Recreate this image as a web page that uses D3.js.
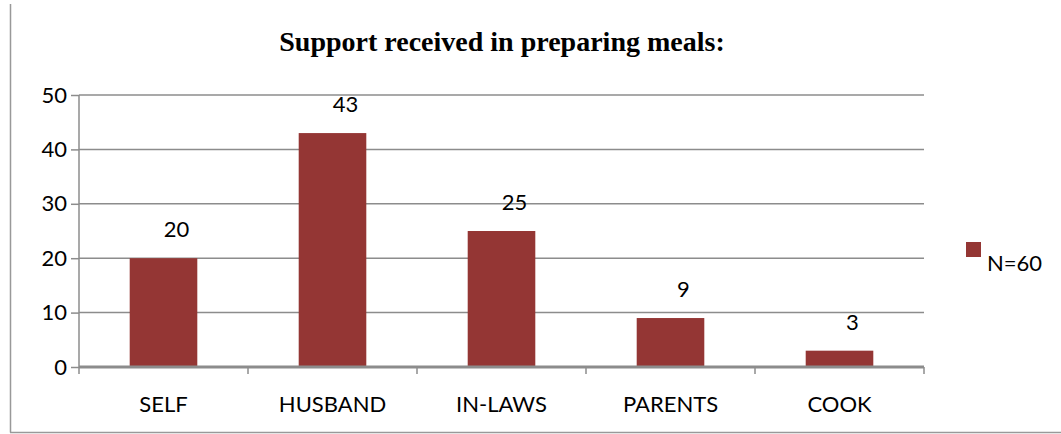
<!DOCTYPE html>
<html>
<head>
<meta charset="utf-8">
<script src="https://cdn.jsdelivr.net/npm/d3@7"></script>
<style>
  body { margin: 0; background: #fff; }
  text { font-family: Lato, "Open Sans", sans-serif; }
</style>
</head>
<body>
<script>
// data
var categories = ["SELF", "HUSBAND", "IN-LAWS", "PARENTS", "COOK"];
var counts     = [20, 43, 25, 9, 3];
var yTicks     = [0, 10, 20, 30, 40, 50];
var seriesName = "N=60";

drawChart()

function drawChart() {
  var W = 1061, H = 434;
  var mLeft = 79, mRight = 924, mTop = 95, mBottom = 367;
  var barColor = "#943634", gridColor = "#8c8c8c";
  var fs = "22px";

  var svg = d3.select("body").append("svg")
    .attr("width", W).attr("height", H);

  // outer frame (only left and bottom edges show)
  svg.append("line").attr("x1", 10.5).attr("x2", 10.5).attr("y1", 4).attr("y2", 432.5)
    .attr("stroke", "#999").attr("stroke-width", 1.5);
  svg.append("line").attr("x1", 10).attr("x2", W).attr("y1", 432.5).attr("y2", 432.5)
    .attr("stroke", "#999").attr("stroke-width", 1.5);

  svg.append("text")
    .attr("x", 502).attr("y", 51)
    .attr("text-anchor", "middle")
    .style("font-family", "'Liberation Serif', 'Times New Roman', serif")
    .style("font-weight", "bold")
    .style("font-size", "28px")
    .text("Support received in preparing meals:");

  var x = d3.scaleBand().domain(categories).range([mLeft, mRight]);
  var y = d3.scaleLinear().domain([0, 50]).range([mBottom, mTop]);

  // gridlines
  svg.append("g").selectAll("line")
    .data(yTicks.filter(function (d) { return d > 0; }))
    .enter().append("line")
    .attr("x1", mLeft).attr("x2", mRight)
    .attr("y1", function (d) { return y(d); })
    .attr("y2", function (d) { return y(d); })
    .attr("stroke", gridColor).attr("stroke-width", 1.5);

  // y axis
  var yAxis = svg.append("g")
    .attr("transform", "translate(" + mLeft + ",0)")
    .call(d3.axisLeft(y).tickValues(yTicks).tickSize(8).tickPadding(4));
  yAxis.selectAll("line, path").attr("stroke", gridColor).attr("stroke-width", 1.5);
  yAxis.select(".domain").attr("d", "M0," + mTop + "V" + mBottom);
  yAxis.selectAll("text").style("font-size", fs).attr("fill", "#000")
    .style("font-family", "Lato, sans-serif");

  // bars
  svg.append("g").selectAll("rect")
    .data(counts)
    .enter().append("rect")
    .attr("x", function (d, i) { return x(categories[i]) + x.bandwidth() * 0.3; })
    .attr("width", x.bandwidth() * 0.4)
    .attr("y", function (d) { return y(d); })
    .attr("height", function (d) { return y(0) - y(d); })
    .attr("fill", barColor);

  // value labels
  svg.append("g").selectAll("text")
    .data(counts)
    .enter().append("text")
    .attr("x", function (d, i) { return x(categories[i]) + x.bandwidth() / 2 + 13; })
    .attr("y", function (d) { return y(d) - 21; })
    .attr("text-anchor", "middle")
    .style("font-size", fs)
    .text(function (d) { return d; });

  // x axis
  var xAxis = svg.append("g")
    .attr("transform", "translate(0," + mBottom + ")");
  xAxis.append("line").attr("x1", mLeft).attr("x2", mRight)
    .attr("stroke", gridColor).attr("stroke-width", 3);
  xAxis.selectAll("line.tick")
    .data(d3.range(categories.length + 1))
    .enter().append("line").attr("class", "tick")
    .attr("x1", function (i) { return mLeft + i * x.step(); })
    .attr("x2", function (i) { return mLeft + i * x.step(); })
    .attr("y1", 0).attr("y2", 7)
    .attr("stroke", gridColor).attr("stroke-width", 1.5);
  xAxis.selectAll("text")
    .data(categories)
    .enter().append("text")
    .attr("x", function (d) { return x(d) + x.bandwidth() / 2; })
    .attr("y", 45)
    .attr("text-anchor", "middle")
    .style("font-size", fs)
    .text(function (d) { return d; });

  // legend
  var legend = svg.append("g");
  legend.append("rect").attr("x", 966).attr("y", 242).attr("width", 15).attr("height", 15)
    .attr("fill", barColor);
  legend.append("text").attr("x", 987).attr("y", 271)
    .style("font-size", fs).text(seriesName);
}
</script>
</body>
</html>
